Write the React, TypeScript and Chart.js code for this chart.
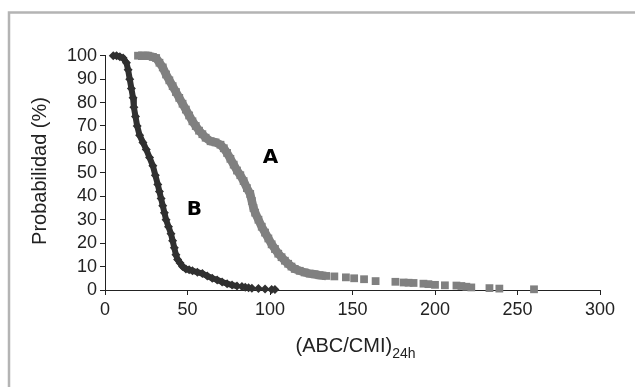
import React, { useEffect, useRef } from "react";
import { Chart, registerables } from "chart.js";

Chart.register(...registerables);

// Series A (gray squares) – continuous part and scattered tail
const A_DENSE_X = [20, 23, 26, 29, 31, 33, 35, 37, 39, 41, 43, 45, 47, 49, 51, 53, 55, 57, 59, 61, 64, 67, 70, 72, 74, 76, 78, 80, 82, 84, 86, 88, 89, 90, 91, 93, 95, 97, 99, 101, 103, 105, 107, 109, 111, 113, 115, 118, 121, 124, 127, 130, 134];
const A_DENSE_Y = [100, 100, 100, 99.5, 99, 97, 95, 92, 89.5, 87, 84.5, 82, 79.5, 77, 74.5, 72, 70, 68, 66.5, 65, 63.5, 63, 62, 60.5, 58.5, 56, 53.5, 51, 49, 46.5, 43.5, 41, 38, 35, 33, 30, 27, 24.5, 22, 19.5, 17.5, 15.5, 14, 12.5, 11.2, 10, 9, 8.2, 7.5, 7, 6.7, 6.3, 6];
const A_TAIL_X = [139, 146, 151, 157, 164, 176, 181, 184, 187, 193, 196, 200, 206, 213, 216, 219, 222, 233, 239, 260];
const A_TAIL_Y = [5.8, 5.4, 5, 4.6, 3.8, 3.5, 3.2, 3.1, 3, 2.7, 2.5, 2.2, 2, 1.9, 1.7, 1.4, 1.1, 0.8, 0.6, 0.3];

// Series B (dark diamonds)
const B_DENSE_X = [5, 7, 9, 11, 13, 14, 15, 16, 17, 17.5, 18.5, 19.5, 21, 23, 25, 27, 29, 30.5, 32, 33, 34, 35, 36, 37, 38.5, 40, 41, 42, 43, 44, 45.5, 47, 49, 51, 53, 56, 59, 62, 65, 68, 71, 74, 77, 80];
const B_DENSE_Y = [100, 100, 99.5, 99, 97, 94, 90, 86, 82, 78, 74, 70, 66, 63, 60, 56.5, 53, 49, 45, 42, 39, 36, 33, 30, 27, 24, 21, 18, 15, 13, 11.5, 10, 9, 8.6, 8.2, 7.6, 7, 6, 5, 4.3, 3.4, 2.7, 2.1, 1.7];
const B_TAIL_X = [83, 85, 87, 89, 93, 97, 101, 103];
const B_TAIL_Y = [1.5, 1.2, 1, 0.8, 0.6, 0.4, 0.2, 0.2];

const X_TICKS = [0, 50, 100, 150, 200, 250, 300];
const Y_TICKS = [0, 10, 20, 30, 40, 50, 60, 70, 80, 90, 100];

const SERIES_LABELS = [
  { text: "A", x: 100.3, y: 56.5 },
  { text: "B", x: 54.2, y: 34.4 },
];

const Y_TITLE = "Probabilidad (%)";
const X_TITLE = "(ABC/CMI)";
const X_TITLE_SUB = "24h";

const GRAY_A = "#808080";
const DARK_B = "#303030";

const pts = (xs: number[], ys: number[]) => xs.map((x, i) => ({ x, y: ys[i] }));

const overlayPlugin = {
  id: "overlay",
  afterDatasetsDraw(chart: any) {
    const { ctx, scales } = chart;
    const xs = scales.x;
    const ys = scales.y;
    ctx.save();
    ctx.fillStyle = "#000";
    ctx.font = "bold 20px 'DejaVu Sans', Arial, sans-serif";
    ctx.textAlign = "center";
    ctx.textBaseline = "middle";
    SERIES_LABELS.forEach((l) => {
      ctx.fillText(l.text, xs.getPixelForValue(l.x), ys.getPixelForValue(l.y));
    });
    ctx.fillStyle = "#222";
    ctx.font = "20px 'Liberation Sans', Arial, sans-serif";
    ctx.save();
    ctx.translate(40, 171);
    ctx.rotate(-Math.PI / 2);
    ctx.textAlign = "center";
    ctx.textBaseline = "middle";
    ctx.fillText(Y_TITLE, 0, 0);
    ctx.restore();
    ctx.font = "20px 'Liberation Sans', Arial, sans-serif";
    const mainW = ctx.measureText(X_TITLE).width;
    ctx.font = "14px 'Liberation Sans', Arial, sans-serif";
    const subW = ctx.measureText(X_TITLE_SUB).width;
    const total = mainW + subW;
    const cx = 355.5;
    const startX = cx - total / 2;
    ctx.textAlign = "left";
    ctx.textBaseline = "alphabetic";
    ctx.font = "20px 'Liberation Sans', Arial, sans-serif";
    ctx.fillText(X_TITLE, startX, 352);
    ctx.font = "14px 'Liberation Sans', Arial, sans-serif";
    ctx.fillText(X_TITLE_SUB, startX + mainW, 358);
    ctx.restore();
  },
};

const framePlugin = {
  id: "frame",
  beforeDraw(chart: any) {
    const { ctx } = chart;
    ctx.save();
    ctx.fillStyle = "#fff";
    ctx.fillRect(0, 0, chart.width, chart.height);
    ctx.strokeStyle = "#b4b4b4";
    ctx.lineWidth = 2.5;
    ctx.beginPath();
    ctx.moveTo(9, 387);
    ctx.lineTo(9, 12.5);
    ctx.lineTo(635, 12.5);
    ctx.stroke();
    ctx.restore();
  },
};

export default function App() {
  const ref = useRef<HTMLCanvasElement | null>(null);
  useEffect(() => {
    if (!ref.current) return;
    const tickFont = { family: "'Liberation Sans', Arial, sans-serif", size: 18 };
    const chart = new Chart(ref.current, {
      type: "scatter",
      data: {
        datasets: [
          {
            data: pts(A_DENSE_X, A_DENSE_Y),
            showLine: true,
            borderColor: GRAY_A,
            backgroundColor: GRAY_A,
            borderWidth: 8.5,
            pointStyle: "rect",
            pointRadius: 5.5,
            pointBorderWidth: 0,
            clip: false,
          } as any,
          {
            data: pts(A_TAIL_X, A_TAIL_Y),
            showLine: false,
            borderColor: GRAY_A,
            backgroundColor: GRAY_A,
            pointStyle: "rect",
            pointRadius: 5.5,
            pointBorderWidth: 0,
            clip: false,
          } as any,
          {
            data: pts(B_DENSE_X, B_DENSE_Y),
            showLine: true,
            borderColor: DARK_B,
            backgroundColor: DARK_B,
            borderWidth: 6,
            pointStyle: "rectRot",
            pointRadius: 4.5,
            pointBorderWidth: 0,
            clip: false,
          } as any,
          {
            data: pts(B_TAIL_X, B_TAIL_Y),
            showLine: false,
            borderColor: DARK_B,
            backgroundColor: DARK_B,
            pointStyle: "rectRot",
            pointRadius: 4.5,
            pointBorderWidth: 0,
            clip: false,
          } as any,
        ],
      },
      options: {
        animation: false,
        responsive: false,
        maintainAspectRatio: false,
        layout: { padding: { left: 0, top: 55.7, right: 35, bottom: 0 } },
        plugins: { legend: { display: false }, tooltip: { enabled: false } },
        scales: {
          x: {
            type: "linear",
            min: 0,
            max: 300,
            afterBuildTicks: (s: any) => {
              s.ticks = X_TICKS.map((v) => ({ value: v }));
            },
            afterFit: (s: any) => {
              s.height = 97;
            },
            grid: { drawOnChartArea: false, drawTicks: true, tickLength: 5, color: "#222" },
            border: { display: true, color: "#222", width: 1 },
            ticks: { color: "#222", font: tickFont, padding: 4, maxRotation: 0, autoSkip: false },
          },
          y: {
            type: "linear",
            min: 0,
            max: 100,
            afterBuildTicks: (s: any) => {
              s.ticks = Y_TICKS.map((v) => ({ value: v }));
            },
            afterFit: (s: any) => {
              s.width = 105;
            },
            grid: { drawOnChartArea: false, drawTicks: true, tickLength: 5, color: "#222" },
            border: { display: true, color: "#222", width: 1 },
            ticks: { color: "#222", font: tickFont, padding: 3, autoSkip: false },
          },
        },
      } as any,
      plugins: [framePlugin, overlayPlugin],
    });
    return () => chart.destroy();
  }, []);
  return (
    <div style={{ position: "absolute", left: 0, top: 0, width: 635, height: 387 }}>
      <canvas ref={ref} width={635} height={387} style={{ display: "block" }} />
    </div>
  );
}
